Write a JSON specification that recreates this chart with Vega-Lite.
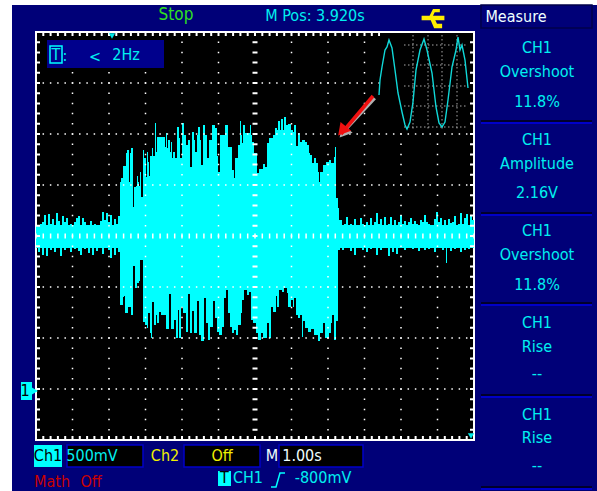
{"$schema":"https://vega.github.io/schema/vega-lite/v6.json","width":597,"height":491,"padding":0,"autosize":"none","background":"#ffffff","config":{"view":{"stroke":null}},
"datasets":{
"panels":[{"s":-24,"s2":561,"c":384,"c2":-102}],
"upper":[{"s":0,"c":164},{"s":2,"c":164},{"s":4,"c":165},{"s":6,"c":167},{"s":8,"c":174},{"s":10,"c":164},{"s":12,"c":175},{"s":14,"c":165},{"s":16,"c":170},{"s":18,"c":164},{"s":20,"c":176},{"s":22,"c":168},{"s":24,"c":164},{"s":26,"c":173},{"s":28,"c":167},{"s":30,"c":171},{"s":32,"c":164},{"s":34,"c":165},{"s":36,"c":164},{"s":38,"c":167},{"s":40,"c":171},{"s":42,"c":173},{"s":44,"c":164},{"s":46,"c":171},{"s":48,"c":167},{"s":50,"c":164},{"s":52,"c":164},{"s":54,"c":168},{"s":56,"c":164},{"s":58,"c":165},{"s":60,"c":164},{"s":62,"c":164},{"s":64,"c":168},{"s":66,"c":177},{"s":68,"c":169},{"s":70,"c":176},{"s":72,"c":167},{"s":74,"c":174},{"s":76,"c":164},{"s":78,"c":170},{"s":80,"c":165},{"s":82,"c":173},{"s":84,"c":207},{"s":85,"c":211},{"s":87,"c":223},{"s":90,"c":236},{"s":91,"c":239},{"s":93,"c":207},{"s":94,"c":236},{"s":95,"c":241},{"s":97,"c":182},{"s":98,"c":202},{"s":100,"c":203},{"s":101,"c":213},{"s":102,"c":207},{"s":103,"c":203},{"s":104,"c":217},{"s":105,"c":192},{"s":107,"c":239},{"s":108,"c":231},{"s":110,"c":212},{"s":111,"c":237},{"s":112,"c":227},{"s":113,"c":213},{"s":114,"c":233},{"s":116,"c":241},{"s":117,"c":233},{"s":119,"c":266},{"s":120,"c":237},{"s":121,"c":252},{"s":129,"c":242},{"s":130,"c":256},{"s":131,"c":241},{"s":132,"c":249},{"s":134,"c":237},{"s":135,"c":247},{"s":136,"c":231},{"s":137,"c":237},{"s":139,"c":231},{"s":141,"c":262},{"s":143,"c":251},{"s":144,"c":231},{"s":146,"c":266},{"s":148,"c":254},{"s":150,"c":244},{"s":152,"c":249},{"s":154,"c":222},{"s":156,"c":257},{"s":158,"c":249},{"s":159,"c":237},{"s":161,"c":254},{"s":162,"c":262},{"s":164,"c":249},{"s":165,"c":224},{"s":167,"c":264},{"s":169,"c":254},{"s":171,"c":231},{"s":173,"c":249},{"s":176,"c":264},{"s":179,"c":261},{"s":181,"c":233},{"s":182,"c":217},{"s":184,"c":254},{"s":186,"c":254},{"s":189,"c":264},{"s":192,"c":242},{"s":196,"c":219},{"s":198,"c":211},{"s":199,"c":231},{"s":202,"c":244},{"s":204,"c":268},{"s":205,"c":254},{"s":206,"c":246},{"s":207,"c":264},{"s":209,"c":256},{"s":214,"c":264},{"s":215,"c":254},{"s":216,"c":247},{"s":218,"c":236},{"s":221,"c":216},{"s":223,"c":220},{"s":227,"c":225},{"s":229,"c":222},{"s":231,"c":246},{"s":233,"c":251},{"s":237,"c":254},{"s":239,"c":261},{"s":241,"c":259},{"s":242,"c":268},{"s":244,"c":259},{"s":245,"c":270},{"s":247,"c":259},{"s":248,"c":272},{"s":250,"c":264},{"s":252,"c":265},{"s":255,"c":259},{"s":257,"c":257},{"s":258,"c":264},{"s":260,"c":243},{"s":262,"c":256},{"s":264,"c":247},{"s":266,"c":249},{"s":269,"c":247},{"s":271,"c":244},{"s":273,"c":236},{"s":274,"c":234},{"s":276,"c":226},{"s":278,"c":231},{"s":280,"c":226},{"s":282,"c":217},{"s":283,"c":207},{"s":284,"c":217},{"s":287,"c":224},{"s":290,"c":227},{"s":293,"c":229},{"s":295,"c":226},{"s":298,"c":232},{"s":299,"c":242},{"s":300,"c":191},{"s":302,"c":181},{"s":303,"c":169},{"s":304,"c":169},{"s":306,"c":164},{"s":308,"c":165},{"s":310,"c":172},{"s":312,"c":164},{"s":314,"c":165},{"s":316,"c":164},{"s":318,"c":170},{"s":320,"c":164},{"s":322,"c":164},{"s":324,"c":171},{"s":326,"c":165},{"s":328,"c":164},{"s":330,"c":167},{"s":332,"c":164},{"s":334,"c":171},{"s":336,"c":164},{"s":338,"c":167},{"s":340,"c":176},{"s":342,"c":165},{"s":344,"c":170},{"s":346,"c":164},{"s":348,"c":172},{"s":350,"c":164},{"s":352,"c":165},{"s":354,"c":172},{"s":356,"c":164},{"s":358,"c":169},{"s":360,"c":164},{"s":362,"c":167},{"s":364,"c":174},{"s":366,"c":165},{"s":368,"c":168},{"s":370,"c":164},{"s":372,"c":167},{"s":374,"c":171},{"s":376,"c":165},{"s":378,"c":168},{"s":380,"c":165},{"s":382,"c":164},{"s":384,"c":169},{"s":386,"c":167},{"s":388,"c":174},{"s":390,"c":167},{"s":392,"c":165},{"s":394,"c":164},{"s":396,"c":164},{"s":398,"c":170},{"s":400,"c":177},{"s":402,"c":167},{"s":404,"c":171},{"s":406,"c":164},{"s":408,"c":169},{"s":410,"c":164},{"s":412,"c":170},{"s":414,"c":166},{"s":416,"c":167},{"s":418,"c":173},{"s":420,"c":164},{"s":422,"c":165},{"s":424,"c":176},{"s":426,"c":165},{"s":428,"c":171},{"s":430,"c":175},{"s":432,"c":164},{"s":434,"c":173},{"s":436,"c":169},{"s":438,"c":165}],
"lower":[{"s":0,"c":141},{"s":2,"c":137},{"s":4,"c":141},{"s":6,"c":134},{"s":8,"c":141},{"s":10,"c":133},{"s":12,"c":141},{"s":14,"c":139},{"s":16,"c":141},{"s":18,"c":137},{"s":20,"c":141},{"s":22,"c":141},{"s":24,"c":133},{"s":26,"c":141},{"s":28,"c":139},{"s":30,"c":141},{"s":32,"c":141},{"s":34,"c":137},{"s":36,"c":141},{"s":38,"c":140},{"s":40,"c":141},{"s":42,"c":138},{"s":44,"c":134},{"s":46,"c":141},{"s":48,"c":140},{"s":50,"c":141},{"s":52,"c":136},{"s":54,"c":141},{"s":56,"c":134},{"s":58,"c":141},{"s":60,"c":138},{"s":62,"c":141},{"s":64,"c":141},{"s":66,"c":135},{"s":68,"c":141},{"s":70,"c":141},{"s":72,"c":139},{"s":74,"c":131},{"s":76,"c":141},{"s":78,"c":134},{"s":80,"c":141},{"s":82,"c":137},{"s":84,"c":84},{"s":87,"c":92},{"s":88,"c":93},{"s":89,"c":76},{"s":92,"c":82},{"s":95,"c":74},{"s":97,"c":123},{"s":99,"c":101},{"s":101,"c":106},{"s":103,"c":108},{"s":104,"c":129},{"s":107,"c":67},{"s":109,"c":64},{"s":111,"c":61},{"s":112,"c":76},{"s":114,"c":56},{"s":115,"c":51},{"s":116,"c":87},{"s":118,"c":64},{"s":120,"c":74},{"s":121,"c":66},{"s":123,"c":77},{"s":125,"c":74},{"s":130,"c":60},{"s":133,"c":95},{"s":135,"c":60},{"s":138,"c":69},{"s":140,"c":51},{"s":142,"c":79},{"s":143,"c":51},{"s":145,"c":82},{"s":147,"c":76},{"s":150,"c":57},{"s":152,"c":95},{"s":154,"c":56},{"s":156,"c":78},{"s":158,"c":56},{"s":161,"c":88},{"s":163,"c":54},{"s":165,"c":48},{"s":168,"c":91},{"s":170,"c":66},{"s":172,"c":49},{"s":174,"c":62},{"s":177,"c":88},{"s":179,"c":71},{"s":181,"c":57},{"s":183,"c":54},{"s":186,"c":62},{"s":188,"c":91},{"s":190,"c":99},{"s":192,"c":76},{"s":194,"c":62},{"s":196,"c":56},{"s":198,"c":59},{"s":200,"c":54},{"s":202,"c":64},{"s":205,"c":76},{"s":206,"c":89},{"s":208,"c":99},{"s":211,"c":94},{"s":213,"c":97},{"s":215,"c":69},{"s":217,"c":66},{"s":220,"c":56},{"s":222,"c":49},{"s":225,"c":56},{"s":227,"c":51},{"s":231,"c":66},{"s":233,"c":51},{"s":235,"c":82},{"s":237,"c":77},{"s":240,"c":93},{"s":241,"c":82},{"s":243,"c":99},{"s":246,"c":97},{"s":248,"c":101},{"s":251,"c":96},{"s":252,"c":82},{"s":255,"c":89},{"s":257,"c":82},{"s":258,"c":91},{"s":260,"c":74},{"s":262,"c":71},{"s":264,"c":74},{"s":266,"c":52},{"s":267,"c":68},{"s":269,"c":61},{"s":272,"c":57},{"s":275,"c":60},{"s":278,"c":54},{"s":282,"c":48},{"s":284,"c":56},{"s":287,"c":66},{"s":289,"c":51},{"s":293,"c":56},{"s":295,"c":66},{"s":296,"c":74},{"s":298,"c":49},{"s":300,"c":68},{"s":302,"c":139},{"s":304,"c":141},{"s":306,"c":139},{"s":308,"c":141},{"s":310,"c":141},{"s":312,"c":141},{"s":314,"c":138},{"s":316,"c":141},{"s":318,"c":134},{"s":320,"c":141},{"s":322,"c":141},{"s":324,"c":141},{"s":326,"c":139},{"s":328,"c":141},{"s":330,"c":137},{"s":332,"c":141},{"s":334,"c":140},{"s":336,"c":141},{"s":338,"c":141},{"s":340,"c":134},{"s":342,"c":141},{"s":344,"c":139},{"s":346,"c":141},{"s":348,"c":141},{"s":350,"c":141},{"s":352,"c":133},{"s":354,"c":141},{"s":356,"c":137},{"s":358,"c":141},{"s":360,"c":135},{"s":362,"c":141},{"s":364,"c":141},{"s":366,"c":141},{"s":368,"c":139},{"s":370,"c":141},{"s":372,"c":141},{"s":374,"c":141},{"s":376,"c":140},{"s":378,"c":141},{"s":380,"c":141},{"s":382,"c":138},{"s":384,"c":141},{"s":386,"c":141},{"s":388,"c":139},{"s":390,"c":141},{"s":392,"c":140},{"s":394,"c":141},{"s":396,"c":141},{"s":398,"c":137},{"s":400,"c":141},{"s":402,"c":141},{"s":404,"c":141},{"s":406,"c":139},{"s":408,"c":141},{"s":410,"c":126},{"s":411,"c":141},{"s":412,"c":141},{"s":414,"c":138},{"s":416,"c":141},{"s":418,"c":140},{"s":420,"c":141},{"s":422,"c":141},{"s":424,"c":137},{"s":426,"c":141},{"s":428,"c":139},{"s":430,"c":141},{"s":432,"c":140},{"s":434,"c":141},{"s":436,"c":141},{"s":438,"c":141}],
"sine":[{"s":343,"c":294},{"s":344,"c":309},{"s":346,"c":322},{"s":349,"c":339},{"s":351,"c":342},{"s":353,"c":349},{"s":356,"c":341},{"s":359,"c":319},{"s":362,"c":296},{"s":366,"c":277},{"s":369,"c":264},{"s":371,"c":260},{"s":374,"c":267},{"s":377,"c":287},{"s":380,"c":319},{"s":384,"c":339},{"s":388,"c":350},{"s":391,"c":339},{"s":396,"c":316},{"s":400,"c":282},{"s":403,"c":266},{"s":406,"c":262},{"s":409,"c":267},{"s":412,"c":289},{"s":416,"c":322},{"s":420,"c":339},{"s":422,"c":352},{"s":424,"c":339},{"s":426,"c":344},{"s":429,"c":329},{"s":432,"c":301}],
"vgrid":[{"s":36.5},{"s":73},{"s":109.5},{"s":146},{"s":182.5},{"s":255.5},{"s":292},{"s":328.5},{"s":365},{"s":401.5}],
"hgrid":[{"c":306},{"c":255},{"c":204},{"c":102},{"c":51},{"c":0}],
"dividers":[{"c":268},{"c":176},{"c":86},{"c":-6},{"c":-98}]
},
"layer":[
{"data":{"name":"panels"},"mark":{"type":"rect","fill":"#000078"},"encoding":{"x":{"field":"s","type":"quantitative","scale":{"domain":[-36,561],"nice":false,"zero":false},"axis":null},"x2":{"field":"s2"},"y":{"field":"c","type":"quantitative","scale":{"domain":[-102,389],"nice":false,"zero":false},"axis":null},"y2":{"field":"c2"}}},
{"data":{"values":[{"s":0,"s2":438,"c":357,"c2":-51}]},"mark":{"type":"rect","fill":"#000000","stroke":"#ffffff","strokeWidth":2},"encoding":{"x":{"field":"s","type":"quantitative"},"x2":{"field":"s2"},"y":{"field":"c","type":"quantitative"},"y2":{"field":"c2"}}},
{"data":{"name":"upper"},"mark":{"type":"area","interpolate":"step-after","color":"#00ffff"},"encoding":{"x":{"field":"s","type":"quantitative"},"y":{"field":"c","type":"quantitative"},"y2":{"datum":153}}},
{"data":{"name":"lower"},"mark":{"type":"area","interpolate":"step-after","color":"#00ffff"},"encoding":{"x":{"field":"s","type":"quantitative"},"y":{"field":"c","type":"quantitative"},"y2":{"datum":153}}},
{"data":{"name":"vgrid"},"mark":{"type":"rule","color":"#ffffff","strokeWidth":1.5,"strokeDash":[1.5,8.7],"strokeDashOffset":0.75},"encoding":{"x":{"field":"s","type":"quantitative"},"y":{"datum":357},"y2":{"datum":-51}}},
{"data":{"name":"hgrid"},"mark":{"type":"rule","color":"#ffffff","strokeWidth":1.5,"strokeDash":[1.5,5.8],"strokeDashOffset":0.75},"encoding":{"y":{"field":"c","type":"quantitative"},"x":{"datum":0},"x2":{"datum":438}}},
{"data":{"values":[{"s":219}]},"mark":{"type":"rule","color":"#ffffff","strokeWidth":5,"strokeDash":[2,8.2],"strokeDashOffset":1},"encoding":{"x":{"field":"s","type":"quantitative"},"y":{"datum":357},"y2":{"datum":-51}}},
{"data":{"values":[{"c":153}]},"mark":{"type":"rule","color":"#ffffff","strokeWidth":5,"strokeDash":[1.5,5.8],"strokeDashOffset":0.75},"encoding":{"y":{"field":"c","type":"quantitative"},"x":{"datum":0},"x2":{"datum":438}}},
{"data":{"values":[{"s":2},{"s":436}]},"mark":{"type":"rule","color":"#ffffff","strokeWidth":4,"strokeDash":[2,8.2],"strokeDashOffset":1},"encoding":{"x":{"field":"s","type":"quantitative"},"y":{"datum":357},"y2":{"datum":-51}}},
{"data":{"values":[{"c":355},{"c":-49}]},"mark":{"type":"rule","color":"#ffffff","strokeWidth":4,"strokeDash":[2,5.3],"strokeDashOffset":1},"encoding":{"y":{"field":"c","type":"quantitative"},"x":{"datum":0},"x2":{"datum":438}}},
{"data":{"values":[{"s":344,"s2":434,"c":356,"c2":257}]},"mark":{"type":"rect","fill":"#000000"},"encoding":{"x":{"field":"s","type":"quantitative"},"x2":{"field":"s2"},"y":{"field":"c","type":"quantitative"},"y2":{"field":"c2"}}},
{"data":{"values":[{"c":344},{"c":324},{"c":303},{"c":283},{"c":262}]},"mark":{"type":"rule","color":"#a8a8a8","strokeWidth":1,"strokeDash":[1.5,2.5]},"encoding":{"y":{"field":"c","type":"quantitative"},"x":{"datum":368},"x2":{"datum":431}}},
{"data":{"values":[{"s":377},{"s":392},{"s":406},{"s":421}]},"mark":{"type":"rule","color":"#a8a8a8","strokeWidth":1,"strokeDash":[1.5,2.5]},"encoding":{"x":{"field":"s","type":"quantitative"},"y":{"datum":354},"y2":{"datum":259}}},
{"data":{"name":"sine"},"mark":{"type":"line","color":"#10d8d8","strokeWidth":1.4},"encoding":{"x":{"field":"s","type":"quantitative"},"y":{"field":"c","type":"quantitative"}}},
{"data":{"values":[{"s":337,"c":293,"s2":305,"c2":255}]},"mark":{"type":"rule","color":"#b0b0b0","strokeWidth":4,"xOffset":1.5,"yOffset":2},"encoding":{"x":{"field":"s","type":"quantitative"},"x2":{"field":"s2"},"y":{"field":"c","type":"quantitative"},"y2":{"field":"c2"}}},
{"data":{"values":[{"s":306,"c":258}]},"mark":{"type":"point","shape":"triangle-up","filled":true,"opacity":1,"color":"#b0b0b0","size":190,"angle":220,"xOffset":1.5,"yOffset":2},"encoding":{"x":{"field":"s","type":"quantitative"},"y":{"field":"c","type":"quantitative"}}},
{"data":{"values":[{"s":337,"c":293,"s2":305,"c2":255}]},"mark":{"type":"rule","color":"#f01010","strokeWidth":3.5},"encoding":{"x":{"field":"s","type":"quantitative"},"x2":{"field":"s2"},"y":{"field":"c","type":"quantitative"},"y2":{"field":"c2"}}},
{"data":{"values":[{"s":306,"c":258}]},"mark":{"type":"point","shape":"triangle-up","filled":true,"opacity":1,"color":"#f01010","size":190,"angle":220},"encoding":{"x":{"field":"s","type":"quantitative"},"y":{"field":"c","type":"quantitative"}}},
{"data":{"values":[{"s":76,"c":353},{"s":435,"c":-47}]},"mark":{"type":"point","shape":"triangle-down","filled":true,"opacity":1,"color":"#00e8e8","size":40},"encoding":{"x":{"field":"s","type":"quantitative"},"y":{"field":"c","type":"quantitative"}}},
{"data":{"values":[{"s":11,"s2":128,"c":349,"c2":321}]},"mark":{"type":"rect","fill":"#00008c"},"encoding":{"x":{"field":"s","type":"quantitative"},"x2":{"field":"s2"},"y":{"field":"c","type":"quantitative"},"y2":{"field":"c2"}}},
{"data":{"values":[{"s":14,"s2":26,"c":343,"c2":326}]},"mark":{"type":"rect","fill":"#00008c","stroke":"#00ffff","strokeWidth":1.5},"encoding":{"x":{"field":"s","type":"quantitative"},"x2":{"field":"s2"},"y":{"field":"c","type":"quantitative"},"y2":{"field":"c2"}}},
{"data":{"values":[{"s":31,"s2":107,"c":-56,"c2":-78},{"s":148,"s2":224,"c":-56,"c2":-78},{"s":243,"s2":327,"c":-56,"c2":-78}]},"mark":{"type":"rect","fill":"#000000","stroke":"#0000c8","strokeWidth":1.5},"encoding":{"x":{"field":"s","type":"quantitative"},"x2":{"field":"s2"},"y":{"field":"c","type":"quantitative"},"y2":{"field":"c2"}}},
{"data":{"values":[{"s":445,"s2":556,"c":384,"c2":361}]},"mark":{"type":"rect","fill":"#000078","stroke":"#00004a","strokeWidth":1.5},"encoding":{"x":{"field":"s","type":"quantitative"},"x2":{"field":"s2"},"y":{"field":"c","type":"quantitative"},"y2":{"field":"c2"}}},
{"data":{"values":[{"s":-2,"s2":26,"c":-56,"c2":-78},{"s":182,"s2":195,"c":-82,"c2":-97},{"s":-15,"s2":-4,"c":7,"c2":-11}]},"mark":{"type":"rect","fill":"#00ffff"},"encoding":{"x":{"field":"s","type":"quantitative"},"x2":{"field":"s2"},"y":{"field":"c","type":"quantitative"},"y2":{"field":"c2"}}},
{"data":{"values":[{"s":-3,"c":-2}]},"mark":{"type":"point","shape":"triangle-right","filled":true,"opacity":1,"color":"#00ffff","size":130},"encoding":{"x":{"field":"s","type":"quantitative"},"y":{"field":"c","type":"quantitative"}}},
{"data":{"name":"dividers"},"mark":{"type":"rule","color":"#00002c","strokeWidth":2},"encoding":{"y":{"field":"c","type":"quantitative"},"x":{"datum":445},"x2":{"datum":556}}},
{"data":{"name":"dividers"},"mark":{"type":"rule","color":"#0000c8","strokeWidth":2,"yOffset":2},"encoding":{"y":{"field":"c","type":"quantitative"},"x":{"datum":445},"x2":{"datum":556}}},
{"data":{"values":[{"s":397,"c":371}]},"mark":{"type":"point","filled":true,"opacity":1,"color":"#ffee00","size":520,"shape":"M-1 -0.2 L-0.3 -0.2 L0 -0.8 L0.6 -0.8 L0.6 -0.5 L0.15 -0.5 L0 -0.2 L1 -0.2 L1 0.2 L0.2 0.2 L0.35 0.5 L0.8 0.5 L0.8 0.9 L0.1 0.9 L-0.2 0.2 L-1 0.2 Z"},"encoding":{"x":{"field":"s","type":"quantitative"},"y":{"field":"c","type":"quantitative"}}},
{"data":{"values":[{"s":235,"c":-98},{"s":240,"c":-98},{"s":244,"c":-84},{"s":249,"c":-84}]},"mark":{"type":"line","color":"#00ffff","strokeWidth":1.5},"encoding":{"x":{"field":"s","type":"quantitative"},"y":{"field":"c","type":"quantitative"}}},
{"data":{"values":[{"label":"M Pos: 3.920s","s":279,"c":373},{"label":"CH1","s":501,"c":341},{"label":"Overshoot","s":501,"c":317},{"label":"11.8%","s":501,"c":287},{"label":"CH1","s":501,"c":249},{"label":"Amplitude","s":501,"c":225},{"label":"2.16V","s":501,"c":196},{"label":"CH1","s":501,"c":158},{"label":"Overshoot","s":501,"c":134},{"label":"11.8%","s":501,"c":104},{"label":"CH1","s":501,"c":66},{"label":"Rise","s":501,"c":42},{"label":"--","s":501,"c":15},{"label":"CH1","s":501,"c":-26},{"label":"Rise","s":501,"c":-49},{"label":"--","s":501,"c":-77},{"label":"500mV","s":56,"c":-67},{"label":"CH1","s":212,"c":-89},{"label":"-800mV","s":287,"c":-89},{"label":"2Hz","s":90,"c":334},{"label":"<","s":59,"c":332},{"label":":","s":29,"c":333},{"label":"T","s":20,"c":334}]},"mark":{"type":"text","font":"'DejaVu Sans Condensed', 'Liberation Sans', sans-serif","fontSize":16,"color":"#00f0f0","align":"center","baseline":"middle"},"encoding":{"x":{"field":"s","type":"quantitative"},"y":{"field":"c","type":"quantitative"},"text":{"field":"label"}}},
{"data":{"values":[{"label":"Measure","s":480,"c":372},{"label":"M","s":236,"c":-67},{"label":"1.00s","s":266,"c":-67}]},"mark":{"type":"text","font":"'DejaVu Sans Condensed', 'Liberation Sans', sans-serif","fontSize":16,"color":"#f0ffff","align":"center","baseline":"middle"},"encoding":{"x":{"field":"s","type":"quantitative"},"y":{"field":"c","type":"quantitative"},"text":{"field":"label"}}},
{"data":{"values":[{"label":"Ch2","s":129,"c":-67},{"label":"Off","s":186,"c":-67}]},"mark":{"type":"text","font":"'DejaVu Sans Condensed', 'Liberation Sans', sans-serif","fontSize":16,"color":"#f0f000","align":"center","baseline":"middle"},"encoding":{"x":{"field":"s","type":"quantitative"},"y":{"field":"c","type":"quantitative"},"text":{"field":"label"}}},
{"data":{"values":[{"label":"Math","s":16,"c":-93},{"label":"Off","s":55,"c":-93}]},"mark":{"type":"text","font":"'DejaVu Sans Condensed', 'Liberation Sans', sans-serif","fontSize":16,"color":"#c80000","align":"center","baseline":"middle"},"encoding":{"x":{"field":"s","type":"quantitative"},"y":{"field":"c","type":"quantitative"},"text":{"field":"label"}}},
{"data":{"values":[{"label":"Stop","s":140,"c":374}]},"mark":{"type":"text","font":"'DejaVu Sans Condensed', 'Liberation Sans', sans-serif","fontSize":17,"color":"#30e020","align":"center","baseline":"middle"},"encoding":{"x":{"field":"s","type":"quantitative"},"y":{"field":"c","type":"quantitative"},"text":{"field":"label"}}},
{"data":{"values":[{"label":"Ch1","s":12,"c":-67},{"label":"T","s":188.5,"c":-89},{"label":"1","s":-11,"c":-2}]},"mark":{"type":"text","font":"'DejaVu Sans Condensed', 'Liberation Sans', sans-serif","fontSize":16,"color":"#000000","align":"center","baseline":"middle"},"encoding":{"x":{"field":"s","type":"quantitative"},"y":{"field":"c","type":"quantitative"},"text":{"field":"label"}}}
]}
